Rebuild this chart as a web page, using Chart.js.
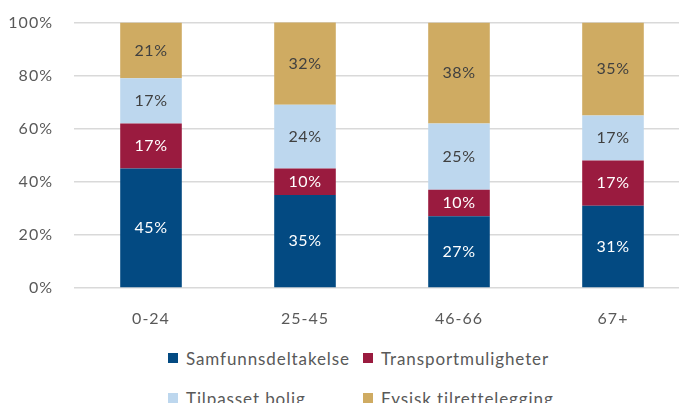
<!DOCTYPE html>
<html>
<head>
<meta charset="utf-8">
<script src="https://cdn.jsdelivr.net/npm/chart.js@4/dist/chart.umd.min.js"></script>
<style>
  html, body { margin: 0; padding: 0; background: #fff; overflow: hidden; width: 679px; height: 403px; }
  #wrap { position: relative; width: 712px; height: 403px; }
  #wrap canvas { position: absolute; left: 0; top: -8px; }
  #legend { position: absolute; left: 168px; top: 346px; display: grid; grid-template-columns: 195px auto; row-gap: 16px;
            font-family: Lato, "Noto Sans", sans-serif; font-size: 17px; letter-spacing: 0.9px; color: #595959; }
  #legend div { display: flex; align-items: center; height: 24px; }
  #legend span.box { display: inline-block; width: 10px; height: 10px; margin-right: 8px; }
</style>
</head>
<body>
<div id="wrap">
  <canvas id="chart" width="712" height="348"></canvas>
  <div id="legend"></div>
</div>
<script>
const categories = ['0-24', '25-45', '46-66', '67+'];
const seriesNames = ['Samfunnsdeltakelse', 'Transportmuligheter', 'Tilpasset bolig', 'Fysisk tilrettelegging'];
const samfunn = [45, 35, 27, 31];
const transport = [17, 10, 10, 17];
const bolig = [17, 24, 25, 17];
const fysisk = [21, 32, 38, 35];
const yTicks = [0, 20, 40, 60, 80, 100];

const colors = ['#034a82', '#9a1b3f', '#bdd7ee', '#cfab62'];
const labelColors = ['#ffffff', '#ffffff', '#404040', '#404040'];
const seriesData = [samfunn, transport, bolig, fysisk];
const fontFamily = 'Lato, "Noto Sans", sans-serif';

// wider letter spacing, like the original's text
const spacing = {
  id: 'spacing',
  beforeDraw(chart) { chart.ctx.letterSpacing = '1px'; }
};

// draws the value in the middle of each segment
const segmentLabels = {
  id: 'segmentLabels',
  afterDatasetsDraw(chart) {
    const ctx = chart.ctx;
    ctx.save();
    ctx.letterSpacing = '0.6px';
    ctx.font = '16px ' + fontFamily;
    ctx.textAlign = 'center';
    ctx.textBaseline = 'middle';
    chart.data.datasets.forEach((ds, i) => {
      chart.getDatasetMeta(i).data.forEach((bar, j) => {
        const top = Math.max(bar.y, chart.chartArea.top);
        ctx.fillStyle = labelColors[i];
        ctx.fillText(ds.data[j] + '%', bar.x, (top + bar.base) / 2);
      });
    });
    ctx.restore();
  }
};

const chart = new Chart(document.getElementById('chart'), {
  type: 'bar',
  data: {
    labels: categories,
    datasets: seriesNames.map((name, i) => ({
      label: name,
      data: seriesData[i],
      backgroundColor: colors[i],
      borderWidth: 0,
      barPercentage: 0.4,
      categoryPercentage: 1
    }))
  },
  options: {
    responsive: false,
    animation: false,
    layout: { padding: { left: 0, top: 14, right: 22, bottom: 0 } },
    plugins: { legend: { display: false }, tooltip: { enabled: false } },
    scales: {
      x: {
        stacked: true,
        grid: { display: false },
        border: { display: false },
        ticks: { color: '#595959', padding: 13, font: { family: fontFamily, size: 16 } },
        afterFit: s => { s.height = 52; }
      },
      y: {
        stacked: true,
        min: 0,
        max: 100,
        afterBuildTicks: s => { s.ticks = yTicks.map(v => ({ value: v })); },
        grid: { color: '#d9d9d9', lineWidth: 1.5, drawTicks: false },
        border: { display: false },
        ticks: { color: '#595959', padding: 21, font: { family: fontFamily, size: 16 }, callback: v => v + '%' },
        afterFit: s => { s.width = 74; }
      }
    }
  },
  plugins: [spacing, segmentLabels]
});

const legend = document.getElementById('legend');
chart.data.datasets.forEach(ds => {
  const item = document.createElement('div');
  item.innerHTML = '<span class="box" style="background:' + ds.backgroundColor + '"></span>' + ds.label;
  legend.appendChild(item);
});
</script>
</body>
</html>
